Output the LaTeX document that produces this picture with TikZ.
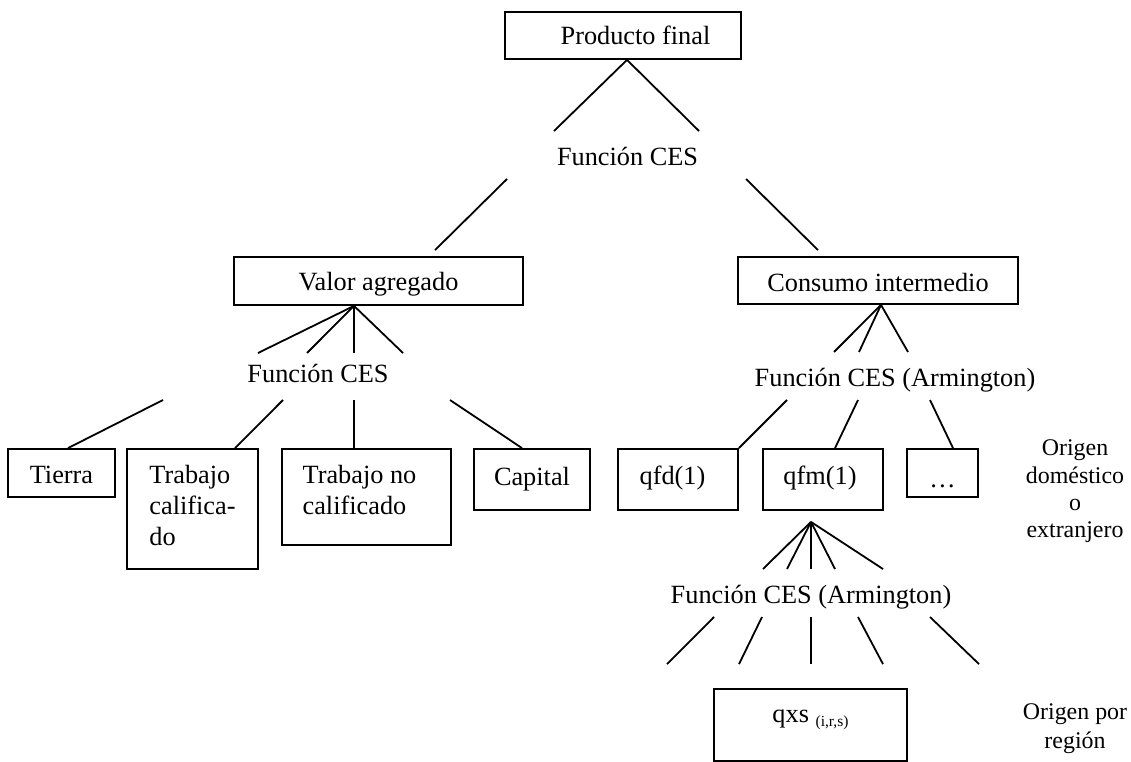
\documentclass[tikz,border=0pt]{standalone}
\usepackage{fontspec}
\setmainfont{Liberation Serif}
\usetikzlibrary{calc}
\newcommand\tf{\fontsize{26.3pt}{31pt}\selectfont}
\tikzset{
  box/.style={draw, line width=1.8pt, inner sep=0pt, font=\tf},
  lbl/.style={inner sep=0pt, font=\tf},
  side/.style={inner sep=0pt, align=center, anchor=north},
  ln/.style={line width=1.8pt}
}
\begin{document}
\begin{tikzpicture}[x=1pt,y=-1pt]
\useasboundingbox (0,0) rectangle (1131,762);
% boxes
\node[box, minimum width=236pt, minimum height=47pt, text height=20pt, text depth=2.4pt] (pf) at (623,35.5) {\hspace*{25pt}Producto final};
\node[box, minimum width=289pt, minimum height=48pt, text height=20pt, text depth=2pt] (va) at (378.5,281) {Valor agregado};
\node[box, minimum width=280pt, minimum height=47pt, text height=22.4pt, text depth=0pt] (ci) at (878,280.5) {Consumo intermedio};
\node[box, minimum width=107pt, minimum height=48pt, text height=20pt, text depth=0pt] (tierra) at (61.5,473) {Tierra};
\node[box, minimum width=131pt, minimum height=120pt, text height=10pt, text depth=62pt] (tc) at (192.5,509) {\vtop{\baselineskip=31pt\hbox{Trabajo}\hbox{califica-}\hbox{do}}};
\node[box, minimum width=169pt, minimum height=96pt, text height=10pt, text depth=38pt] (tnc) at (366.5,497) {\vtop{\baselineskip=31pt\hbox{Trabajo no}\hbox{calificado}}\hspace*{14pt}};
\node[box, minimum width=116pt, minimum height=61pt, text height=17pt, text depth=6pt] (cap) at (532,479.5) {Capital};
\node[box, minimum width=120pt, minimum height=61pt, text height=18pt, text depth=9pt] (qfd) at (678,479.5) {qfd(1)\hspace*{11pt}};
\node[box, minimum width=120pt, minimum height=61pt, text height=18pt, text depth=9pt] (qfm) at (823,479.5) {qfm(1)\hspace*{6pt}};
\node[box, minimum width=71pt, minimum height=48pt, text height=28pt, text depth=0pt] (dots) at (942.5,473) {…};
\node[box, minimum width=193pt, minimum height=72pt, text height=12pt, text depth=18pt] (qxs) at (810.5,725) {qxs {\fontsize{15.5pt}{16pt}\selectfont\raisebox{-4pt}{(i,r,s)}}};
% function labels
\node[lbl, anchor=base] (ces1) at (627.5,165) {Función CES};
\node[lbl, anchor=base] (ces2) at (318,382) {Función CES};
\node[lbl, anchor=base] (ces3) at (895,386) {Función CES (Armington)};
\node[lbl, anchor=base] (ces4) at (811,603) {Función CES (Armington)};
% side labels
\node[side, font=\fontsize{23.9pt}{27.3pt}\selectfont] (orig1) at (1075,439.7) {Origen\\doméstico\\o\\extranjero};
\node[side, font=\fontsize{23.9pt}{29pt}\selectfont] (orig2) at (1075,703.7) {Origen por\\región};
% connectors
\draw[ln] ($(pf.south)+(4,0)$) -- ($(ces1.base)+(-73.5,-34)$);
\draw[ln] ($(pf.south)+(4,0)$) -- ($(ces1.base)+(71.5,-34)$);
\draw[ln] ($(ces1.base)+(-120.5,14)$) -- ($(va.north)+(56.5,-6)$);
\draw[ln] ($(ces1.base)+(118.5,14)$) -- ($(ci.north)+(-60,-6)$);
% valor agregado
\foreach \dx in {-60,-11,36,85}
  \draw[ln] ($(va.south)+(-24.5,0)$) -- ($(ces2.base)+(\dx,-29)$);
\draw[ln] ($(ces2.base)+(-155,18)$) -- ($(tierra.north)+(6.5,0)$);
\draw[ln] ($(ces2.base)+(-35,18)$) -- ($(tc.north)+(42.5,0)$);
\draw[ln] ($(ces2.base)+(36,18)$) -- ($(tnc.north)+(-12.5,0)$);
\draw[ln] ($(ces2.base)+(132,18)$) -- ($(cap.north)+(-10,0)$);
% consumo intermedio
\foreach \dx in {-61,-36,13}
  \draw[ln] ($(ci.south)+(3,0)$) -- ($(ces3.base)+(\dx,-34)$);
\draw[ln] ($(ces3.base)+(-108,14)$) -- (qfd.north east);
\draw[ln] ($(ces3.base)+(-37,14)$) -- ($(qfm.north)+(12,0)$);
\draw[ln] ($(ces3.base)+(35,14)$) -- ($(dots.north)+(10.5,0)$);
% qfm
\foreach \dx in {-48,-24,0,24,72}
  \draw[ln] ($(qfm.south)+(-12,11)$) -- ($(ces4.base)+(\dx,-34)$);
\draw[ln] ($(ces4.base)+(-97,14)$) -- ($(qxs.north)+(-143.5,-24)$);
\draw[ln] ($(ces4.base)+(-49,14)$) -- ($(qxs.north)+(-71.5,-24)$);
\draw[ln] ($(ces4.base)+(0,14)$) -- ($(qxs.north)+(0.5,-24)$);
\draw[ln] ($(ces4.base)+(47,14)$) -- ($(qxs.north)+(72.5,-24)$);
\draw[ln] ($(ces4.base)+(119,14)$) -- ($(qxs.north)+(168.5,-24)$);
\end{tikzpicture}
\end{document}
